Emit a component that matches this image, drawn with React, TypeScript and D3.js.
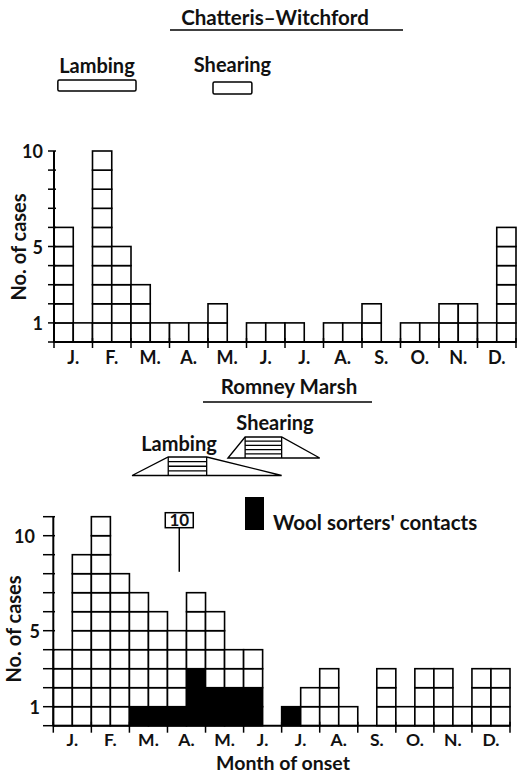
import React from "react";
import * as d3 from "d3";

// ---- Data ----
const monthLabels = ["J.", "F.", "M.", "A.", "M.", "J.", "J.", "A.", "S.", "O.", "N.", "D."];
// cases per half-month (24 columns), Chatteris–Witchford
const chatterisCases = [6, 1, 10, 5, 3, 1, 1, 1, 2, 0, 1, 1, 1, 0, 1, 1, 2, 0, 1, 1, 2, 2, 1, 6];
// Romney Marsh: total cases per half-month and wool sorters' contacts (black)
const romneyCases = [4, 9, 11, 8, 7, 6, 5, 7, 6, 4, 4, 0, 1, 2, 3, 1, 0, 3, 1, 3, 3, 1, 3, 3];
const romneyWoolSorters = [0, 0, 0, 0, 1, 1, 1, 3, 2, 2, 2, 0, 1, 0, 0, 0, 0, 0, 0, 0, 0, 0, 0, 0];
const topYTicks = [1, 5, 10];
const bottomYTicks = [1, 5, 10];
// seasonal periods (in months from 1 Jan)
const chatterisLambing = [0.1, 2.13];
const chatterisShearing = [4.13, 5.14];
// ramp start, plateau start, plateau end, ramp end
const romneyLambing = [2.07, 3.02, 4.03, 6.0];
const romneyShearing = [4.59, 5.04, 6.0, 7.0];
const offScaleLabel = "10";
const offScaleMonth = 3.31;

const FONT = "Lato, 'Open Sans', sans-serif";

function Squares({ counts, black, x, y }: any) {
  const cells: any[] = [];
  counts.forEach((c: number, i: number) => {
    for (let k = 0; k < c; k++) {
      const isBlack = black ? k < black[i] : false;
      const x0 = x(i / 2);
      const x1 = x((i + 1) / 2);
      const y0 = y(k + 1);
      const y1 = y(k);
      cells.push(
        <rect
          key={`${i}-${k}`}
          x={x0}
          y={y0}
          width={x1 - x0}
          height={y1 - y0}
          fill={isBlack ? "#000" : "#fff"}
          stroke="#000"
          strokeWidth={1.6}
        />
      );
    }
  });
  return <g>{cells}</g>;
}

function Trapezoid({ period, x, yTop, yBot, lines }: any) {
  const [a, b, c, d] = period.map((m: number) => x(m));
  const path = `M${a},${yBot} L${b},${yTop} L${c},${yTop} L${d},${yBot} Z`;
  const hatch = d3.range(1, lines).map((i) => yTop + ((yBot - yTop) * i) / lines);
  return (
    <g stroke="#000" fill="none" strokeWidth={1.3}>
      <path d={path} />
      <line x1={b} x2={b} y1={yTop} y2={yBot} />
      <line x1={c} x2={c} y1={yTop} y2={yBot} />
      {hatch.map((hy, i) => (
        <line key={i} x1={b} x2={c} y1={hy} y2={hy} />
      ))}
    </g>
  );
}

export default function App() {
  // top chart scales
  const xT = d3.scaleLinear().domain([0, 12]).range([54, 516]);
  const yT = d3.scaleLinear().domain([0, 10]).range([342, 151]);
  // bottom chart scales
  const xB = d3.scaleLinear().domain([0, 12]).range([53.3, 510]);
  const yB = d3.scaleLinear().domain([0, 11]).range([725.7, 516.7]);

  const textStyle = { fontFamily: FONT, fontWeight: 700 } as any;

  return (
    <svg
      width={519}
      height={772}
      style={{ position: "absolute", left: 0, top: 0, background: "#fff" }}
    >
      <g style={textStyle} fill="#111">
        {/* ---------- TOP ---------- */}
        <text x={275} y={25} textAnchor="middle" fontSize={20.5}>
          Chatteris–Witchford
        </text>
        <line x1={170} x2={403} y1={30} y2={30} stroke="#000" strokeWidth={1.5} />
        <text x={(xT(chatterisLambing[0]) + xT(chatterisLambing[1])) / 2} y={73} textAnchor="middle" fontSize={20}>
          Lambing
        </text>
        <rect
          x={xT(chatterisLambing[0])}
          y={80}
          width={xT(chatterisLambing[1]) - xT(chatterisLambing[0])}
          height={11}
          rx={1.5}
          fill="#fff"
          stroke="#000"
          strokeWidth={1.5}
        />
        <text x={(xT(chatterisShearing[0]) + xT(chatterisShearing[1])) / 2} y={72} textAnchor="middle" fontSize={20}>
          Shearing
        </text>
        <rect
          x={xT(chatterisShearing[0])}
          y={82}
          width={xT(chatterisShearing[1]) - xT(chatterisShearing[0])}
          height={12}
          rx={1.5}
          fill="#fff"
          stroke="#000"
          strokeWidth={1.5}
        />

        <Squares counts={chatterisCases} x={xT} y={yT} />
        {/* y axis */}
        <line x1={54} x2={54} y1={yT(10)} y2={yT(0)} stroke="#000" strokeWidth={2} />
        {d3.range(0, 11).map((t) => (
          <line key={t} x1={48} x2={56} y1={yT(t)} y2={yT(t)} stroke="#000" strokeWidth={1.5} />
        ))}
        {topYTicks.map((t) => (
          <text key={t} x={43} y={yT(t)} textAnchor="end" dominantBaseline="central" fontSize={18}>
            {t}
          </text>
        ))}
        <text transform={`translate(26,247) rotate(-90)`} textAnchor="middle" fontSize={20}>
          No. of cases
        </text>
        {/* x axis */}
        <line x1={xT(0)} x2={xT(12)} y1={yT(0)} y2={yT(0)} stroke="#000" strokeWidth={2} />
        {d3.range(0, 13).map((m) => (
          <line key={m} x1={xT(m)} x2={xT(m)} y1={yT(0) - 4} y2={yT(0) + 6} stroke="#000" strokeWidth={1.5} />
        ))}
        {monthLabels.map((l, i) => (
          <text key={i} x={xT(i + 0.5)} y={363.5} textAnchor="middle" fontSize={18}>
            {l}
          </text>
        ))}

        {/* ---------- BOTTOM ---------- */}
        <text x={289} y={394} textAnchor="middle" fontSize={20.5}>
          Romney Marsh
        </text>
        <line x1={203} x2={372} y1={402} y2={402} stroke="#000" strokeWidth={1.5} />
        <text x={275} y={430} textAnchor="middle" fontSize={20}>
          Shearing
        </text>
        <Trapezoid period={romneyShearing} x={xB} yTop={437} yBot={458} lines={5} />
        <text x={179} y={451} textAnchor="middle" fontSize={20}>
          Lambing
        </text>
        <Trapezoid period={romneyLambing} x={xB} yTop={457} yBot={475.5} lines={4} />

        {/* legend */}
        <rect x={245} y={497} width={19} height={33} fill="#000" />
        <text x={273} y={530} fontSize={20.5}>
          Wool sorters' contacts
        </text>

        {/* off-scale marker */}
        <rect x={xB(offScaleMonth) - 14} y={512.7} width={28} height={15} fill="#fff" stroke="#000" strokeWidth={1.5} />
        <text x={xB(offScaleMonth)} y={526} textAnchor="middle" fontSize={17}>
          {offScaleLabel}
        </text>
        <line x1={xB(offScaleMonth)} x2={xB(offScaleMonth)} y1={527.7} y2={yB(8.1)} stroke="#000" strokeWidth={1.5} />

        <Squares counts={romneyCases} black={romneyWoolSorters} x={xB} y={yB} />
        {/* y axis */}
        <line x1={53.3} x2={53.3} y1={yB(11)} y2={yB(0)} stroke="#000" strokeWidth={2} />
        {d3.range(0, 12).map((t) => (
          <line key={t} x1={43} x2={55} y1={yB(t)} y2={yB(t)} stroke="#000" strokeWidth={1.5} />
        ))}
        {bottomYTicks.map((t) => (
          <text key={t} x={t === 10 ? 35 : 40} y={yB(t)} textAnchor="end" dominantBaseline="central" fontSize={18}>
            {t}
          </text>
        ))}
        <text transform={`translate(21,629) rotate(-90)`} textAnchor="middle" fontSize={20}>
          No. of cases
        </text>
        {/* x axis */}
        <line x1={xB(0)} x2={xB(12)} y1={yB(0)} y2={yB(0)} stroke="#000" strokeWidth={2} />
        {d3.range(0, 13).map((m) => (
          <line key={m} x1={xB(m)} x2={xB(m)} y1={yB(0) - 4} y2={yB(0) + 7} stroke="#000" strokeWidth={1.5} />
        ))}
        {monthLabels.map((l, i) => (
          <text key={i} x={xB(i + 0.5)} y={746} textAnchor="middle" fontSize={17.5}>
            {l}
          </text>
        ))}
        <text x={283} y={769.5} textAnchor="middle" fontSize={19.5}>
          Month of onset
        </text>
      </g>
    </svg>
  );
}
